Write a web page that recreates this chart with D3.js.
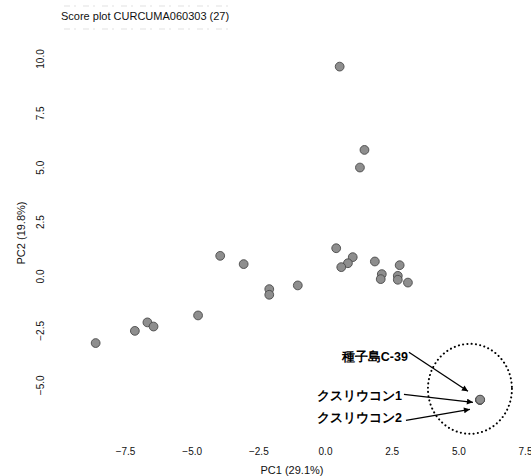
<!DOCTYPE html>
<html>
<head>
<meta charset="utf-8">
<script src="https://cdn.jsdelivr.net/npm/d3@7"></script>
<style>
  html, body { margin: 0; padding: 0; background: #fff; }
  svg { display: block; }
  text { font-family: "Liberation Sans", Arial, sans-serif; }
</style>
</head>
<body>
<div id="chart"></div>
<script>
// ---- data ----
const title = "Score plot CURCUMA060303 (27)";
const xLabel = "PC1 (29.1%)";
const yLabel = "PC2 (19.8%)";
const xTicks = [-7.5, -5.0, -2.5, 0.0, 2.5, 5.0, 7.5];
const yTicks = [-5.0, -2.5, 0.0, 2.5, 5.0, 7.5, 10.0];
const pc1 = [0.55, 1.48, 1.31, 0.42, 1.04, 0.86, 0.61, 1.87, 2.80, 2.13, 2.09, 2.73, 2.73, 3.11,
             -3.93, -3.05, -2.09, -2.09, -1.02, -4.76, -6.66, -6.43, -7.13, -8.60,
             5.81, 5.81, 5.82];
const pc2 = [9.65, 5.82, 5.01, 1.30, 0.89, 0.61, 0.43, 0.69, 0.52, 0.11, -0.12, 0.03, -0.15, -0.28,
             0.95, 0.57, -0.58, -0.84, -0.41, -1.79, -2.11, -2.30, -2.50, -3.06,
             -5.67, -5.68, -5.66];
const annotLabels = ["種子島C-39", "クスリウコン1", "クスリウコン2"];
const annotTarget = 24; // index of the highlighted sample

// ---- layout ----
const W = 531, H = 476;
const svg = d3.select("#chart").append("svg").attr("width", W).attr("height", H);

const x = d3.scaleLinear().domain([0, 7.5]).range([325, 525]);
const y = d3.scaleLinear().domain([0, 10]).range([276.5, 59]);

// title + faint scan artefact lines
svg.append("text").attr("x", 61).attr("y", 20).attr("font-size", 11)
  .attr("fill", "#111").text(title);
[6, 29].forEach(yy => svg.append("line").attr("x1", 64).attr("x2", 232)
  .attr("y1", yy).attr("y2", yy).attr("stroke", "#ccc").attr("stroke-width", 0.6)
  .attr("stroke-dasharray", "6,4,2,7"));

const fmt = d => d3.format(".1f")(d).replace("-", "\u2212");

// x axis (labels only)
const gx = svg.append("g").attr("transform", "translate(0,448)")
  .call(d3.axisBottom(x).tickValues(xTicks).tickFormat(fmt).tickSize(0).tickPadding(0));
gx.select(".domain").remove();
gx.selectAll("text").attr("font-size", 10).attr("fill", "#111")
  .attr("font-family", "'Liberation Sans', Arial, sans-serif");

// y axis (labels only, rotated)
const gy = svg.append("g").attr("transform", "translate(44,0)")
  .call(d3.axisLeft(y).tickValues(yTicks).tickFormat(fmt).tickSize(0).tickPadding(0));
gy.select(".domain").remove();
gy.selectAll("text").attr("font-size", 10).attr("fill", "#111")
  .attr("font-family", "'Liberation Sans', Arial, sans-serif")
  .attr("text-anchor", "middle").attr("dy", 0)
  .attr("transform", "rotate(-90)")
  .each(function(d) {
    d3.select(this).attr("x", -y(d)).attr("y", 0);
  });
gy.selectAll(".tick").attr("transform", null);

// axis titles
svg.append("text").attr("x", 292).attr("y", 474).attr("text-anchor", "middle")
  .attr("font-size", 11).attr("fill", "#111").text(xLabel);
svg.append("text").attr("transform", "translate(25,233) rotate(-90)")
  .attr("text-anchor", "middle").attr("font-size", 11).attr("fill", "#111").text(yLabel);

// points
const pts = pc1.map((v, i) => ({ x: v, y: pc2[i] }));
svg.append("g").selectAll("circle").data(pts).join("circle")
  .attr("cx", d => x(d.x)).attr("cy", d => y(d.y)).attr("r", 4.4)
  .attr("fill", "#8e8e8e").attr("stroke", "#4a4a4a").attr("stroke-width", 0.9);

// annotation
const px = x(pc1[annotTarget]), py = y(pc2[annotTarget]);
const defs = svg.append("defs");
defs.append("marker").attr("id", "ah").attr("viewBox", "0 0 10 10")
  .attr("refX", 10).attr("refY", 5).attr("markerWidth", 9).attr("markerHeight", 6)
  .attr("markerUnits", "userSpaceOnUse").attr("orient", "auto")
  .append("path").attr("d", "M0,0 L10,5 L0,10 Z").attr("fill", "#000");

svg.append("ellipse").attr("cx", px - 10).attr("cy", py - 11).attr("rx", 42).attr("ry", 45)
  .attr("fill", "none").attr("stroke", "#000").attr("stroke-width", 2)
  .attr("stroke-dasharray", "0.1,4.2").attr("stroke-linecap", "round");

const annot = [
  { tx: -72, ty: -43.5, x1: -71, y1: -47.5, x2: -12, y2: -8.5 },
  { tx: -78, ty: -4.5, x1: -76, y1: -5.5, x2: -7, y2: 2.5 },
  { tx: -78, ty: 17.5, x1: -74, y1: 20.5, x2: -10, y2: 9.5 }
];
annot.forEach((a, i) => {
  svg.append("text").attr("x", px + a.tx).attr("y", py + a.ty).attr("dy", "0.36em")
    .attr("text-anchor", "end").attr("font-size", 12.5).attr("font-weight", "bold")
    .attr("font-family", "'Noto Sans CJK JP', sans-serif").attr("fill", "#000")
    .text(annotLabels[i]);
  svg.append("line").attr("x1", px + a.x1).attr("y1", py + a.y1)
    .attr("x2", px + a.x2).attr("y2", py + a.y2)
    .attr("stroke", "#000").attr("stroke-width", 1.3).attr("marker-end", "url(#ah)");
});
</script>
</body>
</html>
